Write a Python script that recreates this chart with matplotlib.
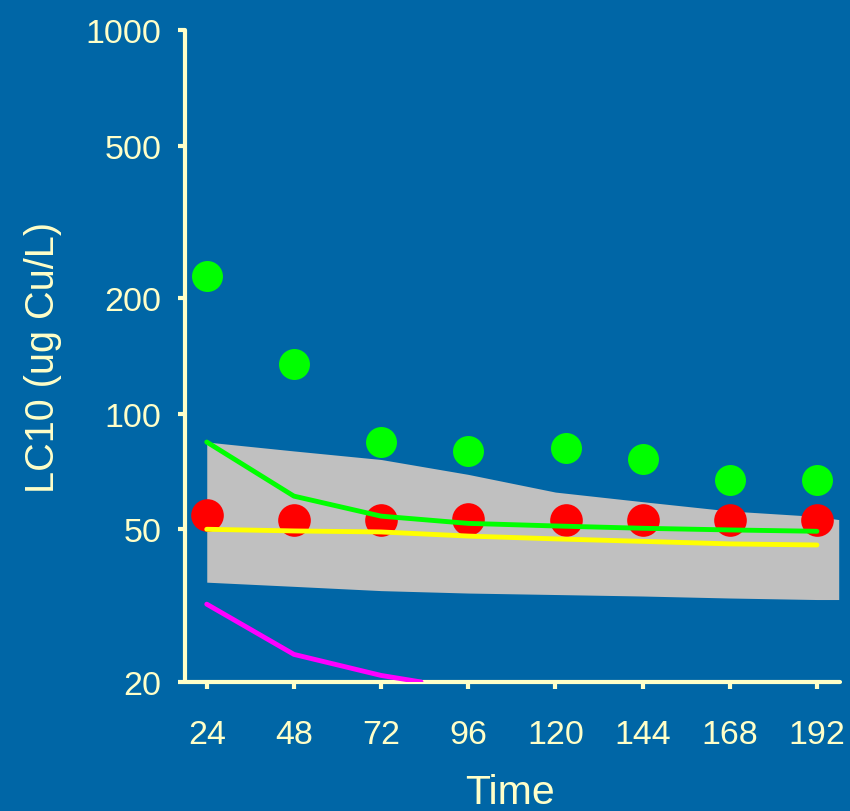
import matplotlib
matplotlib.use("Agg")
import matplotlib.pyplot as plt

# data
hours = [24, 48, 72, 96, 120, 144, 168, 192]
dotHours = [24, 48, 72, 96, 123, 144, 168, 192]
greenDots = [228, 135, 84.4, 80, 81.5, 76.2, 67.2, 67.2]
redDots = [54.5, 52.9, 53, 53.3, 53, 53, 53, 53]
greenLine = [84.4, 61, 54.1, 51.8, 51.0, 50.3, 49.8, 49.4]
yellowLine = [50.0, 49.5, 49.2, 48.0, 47.2, 46.5, 45.8, 45.5]
magentaHours = [24, 48, 72, 83]
magentaLine = [31.9, 23.6, 20.8, 20.0]
bandHours = [24, 48, 72, 96, 120, 144, 168, 192, 198]
bandUpper = [84.4, 80, 76, 69.5, 62.5, 59, 55.8, 54.0, 53]
bandLower = [36.4, 35.5, 34.6, 34.1, 33.8, 33.5, 33.1, 32.8, 32.8]
yTicks = [20, 50, 100, 200, 500, 1000]

bg = '#0066A6'
cream = '#FFFFC8'
plt.rcParams['font.family'] = ['Liberation Sans', 'DejaVu Sans']

fig = plt.figure(figsize=(8.5, 8.12), dpi=100, facecolor=bg)
ax = fig.add_axes([0.2176, 0.1589, 0.988 - 0.2176, 0.9618 - 0.1589])
ax.set_facecolor(bg)

ax.fill_between(bandHours, bandLower, bandUpper, color='#C0C0C0', lw=0, zorder=1)
ax.plot(dotHours, redDots, 'o', color='#FF0000', ms=23.5, mec='none', zorder=2)
ax.plot(dotHours, greenDots, 'o', color='#00FF00', ms=22.3, mec='none', zorder=2)
ax.plot(hours, greenLine, color='#00FF00', lw=3.5, solid_capstyle='round', zorder=3)
ax.plot(hours, yellowLine, color='#FFFF00', lw=3.5, solid_capstyle='round', zorder=3)
ax.plot(magentaHours, magentaLine, color='#FF00FF', lw=3.5, solid_capstyle='round', zorder=3)

ax.set_yscale('log')
ax.set_ylim(20, 1000)
ax.set_xlim(18, 198.3)
ax.set_yticks(yTicks)
ax.set_yticklabels([str(t) for t in yTicks])
ax.minorticks_off()
ax.set_xticks(hours)
ax.set_xticklabels([str(h) for h in hours])

for side in ['top', 'right']:
    ax.spines[side].set_visible(False)
for side in ['left', 'bottom']:
    ax.spines[side].set_color(cream)
    ax.spines[side].set_linewidth(3)
    ax.spines[side].set_capstyle('round')
ax.tick_params(colors=cream, labelsize=24.5, width=3, length=5, direction='out')
ax.tick_params(axis='x', pad=22)
ax.tick_params(axis='y', pad=12)

ax.set_ylabel('LC10 (ug Cu/L)', color=cream, fontsize=28.5)
ax.yaxis.set_label_coords(-0.188, 0.5)
ax.set_xlabel('Time', color=cream, fontsize=29.5)
ax.xaxis.set_label_coords(0.497, -0.139)

fig.savefig('out.png', dpi=100, facecolor=bg)
